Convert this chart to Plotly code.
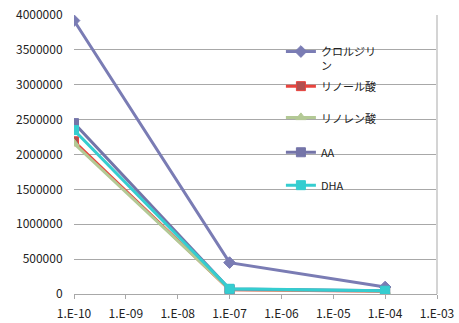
import plotly.graph_objects as go

conc = [1e-10, 1e-7, 1e-4]
series_names = ["クロルジリ<br>ン", "リノール酸", "リノレン酸", "AA", "DHA"]
clorgyline = [3920000, 450000, 100000]
linoleic = [2190000, 60000, 40000]
linolenic = [2160000, 65000, 42000]
aa = [2450000, 70000, 45000]
dha = [2350000, 75000, 47000]
xtick_vals = [1e-10, 1e-9, 1e-8, 1e-7, 1e-6, 1e-5, 1e-4, 1e-3]
xtick_text = ["1.E-10", "1.E-09", "1.E-08", "1.E-07", "1.E-06", "1.E-05", "1.E-04", "1.E-03"]
ytick_vals = [0, 500000, 1000000, 1500000, 2000000, 2500000, 3000000, 3500000, 4000000]

styles = [
    ("#7A7CB4", "diamond", "#7A7CB4"),
    ("#E8443E", "square", "#B05050"),
    ("#B3C995", "triangle-up", "#B3C995"),
    ("#7474A8", "square", "#7474A8"),
    ("#35CDD0", "square", "#35CDD0"),
]
data = [clorgyline, linoleic, linolenic, aa, dha]
legend_ids = ["legend", "legend2", "legend3", "legend4", "legend5"]

fig = go.Figure()
for i, (name, vals, (lc, sym, mc)) in enumerate(zip(series_names, data, styles)):
    fig.add_trace(go.Scatter(
        x=conc, y=vals, name=name, mode="lines+markers",
        line=dict(color=lc, width=3),
        marker=dict(symbol=sym, size=9, color=mc, line=dict(color=lc, width=1)),
        legend=legend_ids[i],
    ))

fig.add_shape(type="line", xref="paper", yref="paper", x0=1, x1=1, y0=0, y1=1,
              line=dict(color="#D4D4D4", width=2))

leg_common = dict(x=0.57, xanchor="left", bgcolor="rgba(0,0,0,0)",
                  font=dict(size=11), itemwidth=30)
legend_y = [0.918, 0.742, 0.63, 0.505, 0.387]
legend_anchor = ["top", "middle", "middle", "middle", "middle"]
leg_layout = {}
for lid, ly, ya in zip(legend_ids, legend_y, legend_anchor):
    leg_layout[lid] = dict(leg_common, y=ly, yanchor=ya, valign="top")

fig.update_layout(
    width=459, height=323,
    margin=dict(l=74, r=22, t=15, b=29),
    paper_bgcolor="white", plot_bgcolor="white",
    font=dict(family="Noto Sans CJK JP, sans-serif", size=12, color="#222"),
    showlegend=True,
    xaxis=dict(type="log", range=[-10, -3], tickvals=xtick_vals, ticktext=xtick_text,
               showgrid=False, showline=True, linecolor="#A8A8A8", mirror=False,
               ticks="outside", ticklen=4, tickcolor="#A8A8A8", zeroline=False,
               tickfont=dict(size=12), automargin=False, ticklabelstandoff=5),
    yaxis=dict(range=[0, 4000000], tickvals=ytick_vals, tickformat="d",
               showgrid=True, gridcolor="#A8A8A8", gridwidth=1,
               showline=False, ticks="outside", ticklen=8, tickcolor="rgba(0,0,0,0)",
               zeroline=False, tickfont=dict(size=12), automargin=False),
    **leg_layout,
)
fig.write_html("out.html", config={"displayModeBar": False},
               post_script="document.body.style.margin='0';document.body.style.padding='0';")
